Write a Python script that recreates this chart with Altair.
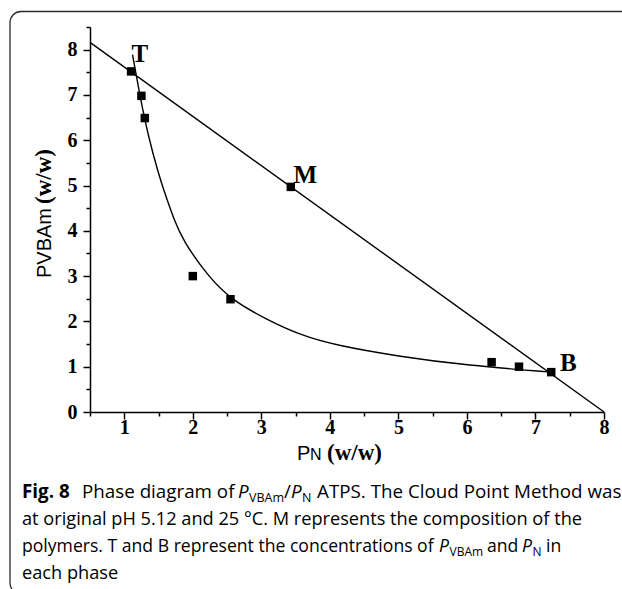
import altair as alt
import pandas as pd

# Binodal curve
curve_x = [1.12, 1.24, 1.34, 1.49, 1.62, 1.73, 1.85, 2.22, 2.55, 3.09, 3.57, 4.06, 5.03, 6.00, 7.23]
curve_y = [7.89, 6.89, 6.16, 5.30, 4.70, 4.24, 3.80, 3.00, 2.49, 2.03, 1.70, 1.48, 1.22, 1.03, 0.88]

# Cloud points
point_x = [1.10, 1.25, 1.30, 2.00, 2.55, 3.43, 6.36, 6.76, 7.23]
point_y = [7.52, 6.98, 6.49, 3.00, 2.49, 4.97, 1.10, 1.00, 0.88]

# Tie line through T, M and B
tie_x = [0.5, 8.0]
tie_y = [8.16, 0.0]

# Labelled compositions
label_text = ["T", "M", "B"]
label_x = [1.10, 3.43, 7.23]
label_y = [7.52, 4.97, 0.88]
label_dx = [0.3, 2.6, 8.7]
label_dy = [-9.4, -3.4, -1.4]

# Tick values
x_major = [1, 2, 3, 4, 5, 6, 7, 8]
x_minor = [0.5, 1.5, 2.5, 3.5, 4.5, 5.5, 6.5, 7.5]
y_major = [0, 1, 2, 3, 4, 5, 6, 7, 8]
y_minor = [0.5, 1.5, 2.5, 3.5, 4.5, 5.5, 6.5, 7.5, 8.5]

LEFT, TOP, RIGHT, BOTTOM = 90, 27, 18, 177
W, H = 514, 385

SERIF = "Liberation Serif"
SANS = "Liberation Sans"
CAP = "Open Sans"

curve_df = pd.DataFrame({"x": curve_x, "y": curve_y})
point_df = pd.DataFrame({"x": point_x, "y": point_y})
tie_df = pd.DataFrame({"x": tie_x, "y": tie_y})
one = pd.DataFrame({"k": [0]})

xs = alt.Scale(domain=[0.5, 8], nice=False, zero=False)
ys = alt.Scale(domain=[0, 8.5], nice=False, zero=False)

axis_style = dict(
    grid=False, title=None, domainColor="black", domainWidth=1.5,
    tickColor="black", tickWidth=1.5, labelColor="black",
    labelFont=SERIF, labelFontWeight="bold", labelFontSize=20,
    labelFlush=False, labelOverlap=False,
)

x_axis_major = alt.Axis(values=x_major, orient="bottom", tickSize=7, labelPadding=-2, **axis_style)
y_axis_major = alt.Axis(values=y_major, orient="left", tickSize=7, labelPadding=6, **axis_style)
x_axis_minor = alt.Axis(values=x_minor, orient="bottom", tickSize=4, labels=False, domain=False,
                        grid=False, title=None, tickColor="black", tickWidth=1.5)
y_axis_minor = alt.Axis(values=y_minor, orient="left", tickSize=4, labels=False, domain=False,
                        grid=False, title=None, tickColor="black", tickWidth=1.5)

tie = alt.Chart(tie_df).mark_line(color="black", strokeWidth=1.4).encode(
    x=alt.X("x:Q", scale=xs, axis=x_axis_major),
    y=alt.Y("y:Q", scale=ys, axis=y_axis_major),
)

curve = alt.Chart(curve_df).mark_line(color="black", strokeWidth=1.4, interpolate="basis").encode(
    x=alt.X("x:Q", scale=xs, axis=None),
    y=alt.Y("y:Q", scale=ys, axis=None),
)

points = alt.Chart(point_df).mark_square(color="black", size=72, opacity=1).encode(
    x=alt.X("x:Q", scale=xs, axis=x_axis_minor),
    y=alt.Y("y:Q", scale=ys, axis=y_axis_minor),
)

label_layers = []
for t, lx, ly, dx, dy in zip(label_text, label_x, label_y, label_dx, label_dy):
    d = pd.DataFrame({"x": [lx], "y": [ly], "t": [t]})
    label_layers.append(
        alt.Chart(d).mark_text(font=SERIF, fontWeight="bold", fontSize=25, color="black",
                               align="left", baseline="alphabetic", dx=dx, dy=dy).encode(
            x=alt.X("x:Q", scale=xs, axis=None),
            y=alt.Y("y:Q", scale=ys, axis=None),
            text="t:N",
        )
    )


def piece(txt, x, y, font, size, weight="normal", style="normal", angle=0, align="left",
          baseline="alphabetic", color="black"):
    """A text fragment placed at page pixel (x, y)."""
    kw = dict(text=txt, font=font, fontSize=size, fontWeight=weight, fontStyle=style,
              align=align, baseline=baseline, color=color)
    if angle:
        kw["angle"] = angle
    return alt.Chart(one).mark_text(**kw).encode(x=alt.value(x - LEFT), y=alt.value(y - TOP))


# Rounded frame around the figure
frame = alt.Chart(one).mark_rect(fillOpacity=0, stroke="#2b2b2b", strokeWidth=1.3, cornerRadius=11).encode(
    x=alt.value(10 - LEFT), x2=alt.value(660 - LEFT),
    y=alt.value(11.5 - TOP), y2=alt.value(594 - TOP),
)

# Axis titles
titles = [
    piece("PVBAm", 51, 278, SANS, 20, angle=270),
    piece("(w/w)", 51, 204, SERIF, 23, weight="bold", angle=270),
    piece("P", 297, 460, SANS, 20),
    piece("N", 310, 460, SANS, 16),
    piece("(w/w)", 327, 460, SERIF, 23, weight="bold"),
]

# Caption
b1, b2, b3, b4 = 498, 525, 552, 579
caption = [
    piece("Fig. 8", 22, b1, CAP, 18.8, weight="bold"),
    piece("Phase diagram of", 82, b1, CAP, 18.8),
    piece("P", 238, b1, CAP, 18.8, style="italic"),
    piece("VBAm", 249, b1 + 4, CAP, 12.5),
    piece("/", 284, b1, CAP, 18.8),
    piece("P", 291, b1, CAP, 18.8, style="italic"),
    piece("N", 302, b1 + 4, CAP, 12.5),
    piece("ATPS. The Cloud Point Method was", 317, b1, CAP, 18.8),
    piece("at original pH 5.12 and 25 °C. M represents the composition of the", 22, b2, CAP, 18.2),
    piece("polymers. T and B represent the concentrations of", 22, b3, CAP, 17.6),
    piece("P", 439, b3, CAP, 17.6, style="italic"),
    piece("VBAm", 449.5, b3 + 4, CAP, 12),
    piece("and", 487, b3, CAP, 17.6),
    piece("P", 522, b3, CAP, 17.6, style="italic"),
    piece("N", 532.5, b3 + 4, CAP, 12),
    piece("in", 546, b3, CAP, 17.6),
    piece("each phase", 22, b4, CAP, 18.2),
]

chart = alt.layer(
    frame, tie, curve, points, *label_layers, *titles, *caption
).resolve_axis(
    x="independent", y="independent"
).properties(
    width=W, height=H,
    padding={"left": LEFT, "top": TOP, "right": RIGHT, "bottom": BOTTOM},
    autosize=alt.AutoSizeParams(type="none"),
    background="white",
).configure_view(stroke=None)

chart.save("out.html", embed_options={"renderer": "svg", "actions": False})
